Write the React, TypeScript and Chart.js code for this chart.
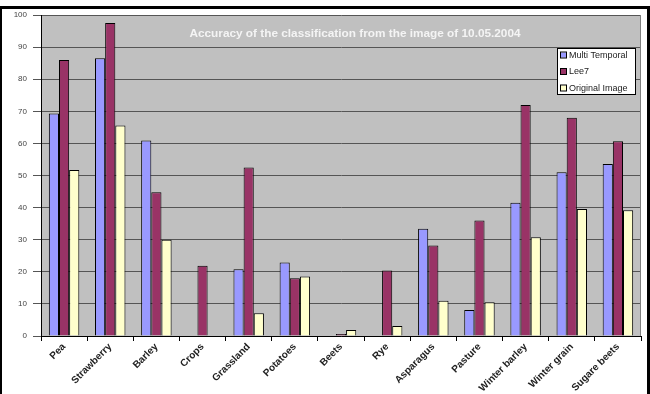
import React, { useEffect, useRef } from "react";
import { Chart, registerables } from "chart.js";

Chart.register(...registerables);

const categories = [
  "Pea",
  "Strawberry",
  "Barley",
  "Crops",
  "Grassland",
  "Potatoes",
  "Beets",
  "Rye",
  "Asparagus",
  "Pasture",
  "Winter barley",
  "Winter grain",
  "Sugare beets",
];

const multiTemporal = [69.3, 86.5, 60.9, 0, 20.8, 22.9, 0, 0, 33.4, 8.1, 41.5, 51, 53.6];
const lee7 = [86, 97.5, 44.8, 21.9, 52.5, 18, 0.6, 20.4, 28.2, 36, 72, 68, 60.7];
const originalImage = [51.7, 65.6, 30, 0, 7.1, 18.5, 1.9, 3.1, 11, 10.5, 30.8, 39.6, 39.2];

const seriesNames = ["Multi Temporal", "Lee7", "Original Image"];
const seriesColors = ["#9999FF", "#993366", "#FFFFCC"];
const yTicks = [0, 10, 20, 30, 40, 50, 60, 70, 80, 90, 100];

const chartTitle = "Accuracy of the classification from the image of 10.05.2004";
const FONT = "'Liberation Sans', Arial, sans-serif";

// Grey plot background, white title in the plot, boxed legend and page frame
const decorPlugin = {
  id: "decor",
  beforeDraw(chart: any) {
    const { ctx, chartArea, width, height } = chart;
    ctx.save();
    ctx.fillStyle = "#ffffff";
    ctx.fillRect(0, 0, width, height);
    ctx.fillStyle = "#C0C0C0";
    ctx.fillRect(chartArea.left, chartArea.top, chartArea.right - chartArea.left, chartArea.bottom - chartArea.top);
    ctx.restore();
  },
  beforeDatasetsDraw(chart: any) {
    const { ctx } = chart;
    ctx.save();
    ctx.fillStyle = "#f4f4f4";
    ctx.font = `bold 11.8px ${FONT}`;
    ctx.textAlign = "center";
    ctx.textBaseline = "middle";
    ctx.fillText(chartTitle, 355, 34);
    ctx.restore();
  },
  afterDraw(chart: any) {
    const { ctx, chartArea, width, height } = chart;
    ctx.save();
    // plot border on the right
    ctx.strokeStyle = "#808080";
    ctx.lineWidth = 1;
    ctx.beginPath();
    ctx.moveTo(chartArea.right - 0.5, chartArea.top);
    ctx.lineTo(chartArea.right - 0.5, chartArea.bottom);
    ctx.stroke();

    // legend
    const lx = 557, ly = 48, lw = 78, lh = 46;
    ctx.fillStyle = "#ffffff";
    ctx.fillRect(lx, ly, lw, lh);
    ctx.strokeStyle = "#000000";
    ctx.strokeRect(lx + 0.5, ly + 0.5, lw, lh);
    ctx.font = `9px ${FONT}`;
    ctx.textBaseline = "middle";
    ctx.textAlign = "left";
    seriesNames.forEach((name, i) => {
      const y = 55 + i * 16.5;
      ctx.fillStyle = seriesColors[i];
      ctx.fillRect(561, y - 2.5, 5, 5);
      ctx.strokeStyle = "#000000";
      ctx.strokeRect(560.5, y - 3, 6, 6);
      ctx.fillStyle = "#222222";
      ctx.fillText(name, 569, y + 0.5);
    });

    // page frame
    ctx.fillStyle = "#000000";
    ctx.fillRect(0, 6, width, 3);
    ctx.fillRect(0, 6, 2, height - 6);
    ctx.fillRect(width - 3, 6, 3, height - 6);
    ctx.restore();
  },
};

export default function App() {
  const canvasRef = useRef<HTMLCanvasElement | null>(null);

  useEffect(() => {
    document.body.style.margin = "0";
    const canvas = canvasRef.current;
    if (!canvas) return;
    const chart = new Chart(canvas, {
      type: "bar",
      data: {
        labels: categories,
        datasets: [multiTemporal, lee7, originalImage].map((values, i) => ({
          label: seriesNames[i],
          data: values,
          backgroundColor: seriesColors[i],
          borderColor: "#000000",
          borderWidth: 1,
          categoryPercentage: 0.66,
          barPercentage: 1,
        })),
      },
      options: {
        animation: false,
        responsive: false,
        maintainAspectRatio: false,
        devicePixelRatio: 1,
        layout: { padding: { top: 15, right: 9, left: 0, bottom: 0 } },
        plugins: {
          legend: { display: false },
          title: { display: false },
          tooltip: { enabled: false },
        },
        scales: {
          x: {
            afterFit(scale: any) {
              scale.height = 58;
            },
            grid: {
              offset: true,
              drawOnChartArea: false,
              drawTicks: true,
              tickLength: 5,
              tickColor: "#000000",
            },
            border: { display: true, color: "#000000", width: 1 },
            ticks: {
              autoSkip: false,
              minRotation: 45,
              maxRotation: 45,
              padding: 0,
              color: "#222222",
              font: { family: FONT, size: 10, weight: "bold" },
            },
          },
          y: {
            min: 0,
            max: 100,
            afterFit(scale: any) {
              scale.width = 41;
            },
            afterBuildTicks(scale: any) {
              scale.ticks = yTicks.map((v) => ({ value: v }));
            },
            grid: {
              color: "#555555",
              lineWidth: 1,
              tickLength: 8,
              tickColor: "#555555",
            },
            border: { display: true, color: "#000000", width: 1 },
            ticks: {
              padding: 6,
              color: "#444444",
              font: { family: FONT, size: 8 },
            },
          },
        },
      },
      plugins: [decorPlugin],
    });
    return () => chart.destroy();
  }, []);

  return (
    <div style={{ position: "fixed", left: 0, top: 0, width: 650, height: 394 }}>
      <canvas ref={canvasRef} width={650} height={394} style={{ width: 650, height: 394, display: "block" }} />
    </div>
  );
}
